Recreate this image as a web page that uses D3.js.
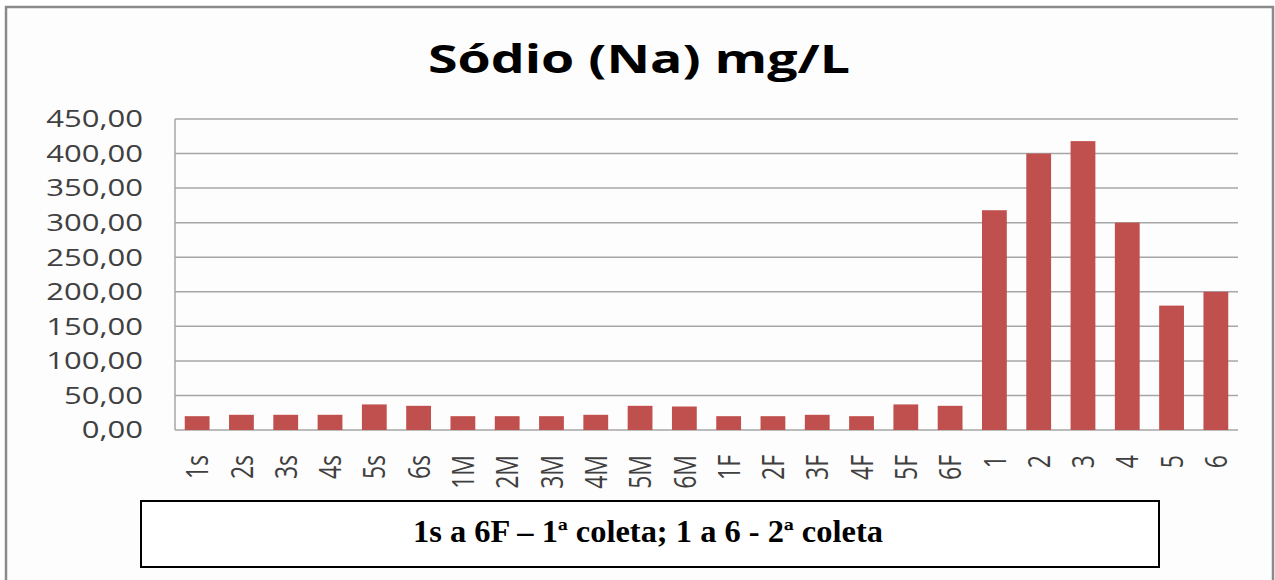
<!DOCTYPE html>
<html>
<head>
<meta charset="utf-8">
<script src="https://cdn.jsdelivr.net/npm/d3@7"></script>
<style>
  body { margin: 0; background: #ffffff; }
  svg { display: block; }
</style>
</head>
<body>
<div id="container"></div>
<script>
/* chart data */
var categories = ["1s","2s","3s","4s","5s","6s","1M","2M","3M","4M","5M","6M",
                  "1F","2F","3F","4F","5F","6F","1","2","3","4","5","6"];
var sodium = [20,22,22,22,37,35,20,20,20,22,35,34,
              20,20,22,20,37,35,318,400,418,300,180,200];
var yTicks = [0,50,100,150,200,250,300,350,400,450];
var title = "Sódio (Na) mg/L";
var caption = "1s a 6F – 1ª coleta; 1 a 6  - 2ª coleta";

/* setup the dimensions */
var W = 1275, H = 580,
    plot = { left: 175, right: 1238, top: 119, bottom: 430 },
    stretch = 1.35;   // the source picture is stretched sideways

var ptBR = d3.formatLocale({ decimal: ",", thousands: ".", grouping: [3], currency: ["", ""] });
var fmt = ptBR.format(".2f");

var svg = d3.select("#container")
            .append("svg")
            .attr("width", W)
            .attr("height", H)

/* outer chart frame */
svg.append("rect")
   .attr("x", 6).attr("y", 7)
   .attr("width", 1267).attr("height", 600)
   .attr("fill", "#fdfdfd")
   .attr("stroke", "#8a8a8a")
   .attr("stroke-width", 2.5)

/* scales */
var x = d3.scaleBand()
          .domain(categories)
          .range([plot.left, plot.right])
          .paddingInner(0.44)
          .paddingOuter(0.22)
var y = d3.scaleLinear()
          .domain([0, 450])
          .range([plot.bottom, plot.top])

/* gridlines */
svg.append("g")
   .selectAll("line")
   .data(yTicks)
   .enter().append("line")
     .attr("x1", plot.left).attr("x2", plot.right)
     .attr("y1", function(d) { return y(d) })
     .attr("y2", function(d) { return y(d) })
     .attr("stroke", "#a6a6a6")
     .attr("stroke-width", 1.5)

/* left axis line */
svg.append("line")
   .attr("x1", plot.left).attr("x2", plot.left)
   .attr("y1", plot.top).attr("y2", plot.bottom)
   .attr("stroke", "#a6a6a6")
   .attr("stroke-width", 1.5)

/* bars */
svg.append("g")
   .selectAll("rect")
   .data(sodium)
   .enter().append("rect")
     .attr("x", function(d, i) { return x(categories[i]) })
     .attr("width", x.bandwidth())
     .attr("y", function(d) { return y(d) })
     .attr("height", function(d) { return y(0) - y(d) })
     .attr("fill", "#c0504d")

/* y tick labels */
svg.append("g")
   .selectAll("text")
   .data(yTicks)
   .enter().append("text")
     .attr("transform", function(d) {
       return "translate(143," + y(d) + ") scale(" + stretch + ",1)"
     })
     .attr("dy", "0.36em")
     .attr("text-anchor", "end")
     .attr("font-family", "'Open Sans', sans-serif")
     .attr("font-size", 23)
     .attr("fill", "#404040")
     .text(function(d) { return fmt(d) })

/* x tick labels, rotated */
svg.append("g")
   .selectAll("text")
   .data(categories)
   .enter().append("text")
     .attr("transform", function(d) {
       return "translate(" + (x(d) + x.bandwidth() / 2) + ",455) scale(" + stretch + ",1) rotate(-90)"
     })
     .attr("dy", "0.36em")
     .attr("text-anchor", "end")
     .attr("font-family", "'Open Sans', sans-serif")
     .attr("font-size", 23)
     .attr("fill", "#404040")
     .text(function(d) { return d })

/* title */
svg.append("text")
   .attr("x", 639).attr("y", 73)
   .attr("text-anchor", "middle")
   .attr("font-family", "'Open Sans', sans-serif")
   .attr("font-weight", "bold")
   .attr("font-size", 39)
   .attr("fill", "#000")
   .attr("textLength", 422)
   .attr("lengthAdjust", "spacingAndGlyphs")
   .text(title)

/* caption box */
svg.append("rect")
   .attr("x", 141).attr("y", 501)
   .attr("width", 1018).attr("height", 66)
   .attr("fill", "#fff")
   .attr("stroke", "#000")
   .attr("stroke-width", 2)

svg.append("text")
   .attr("x", 648).attr("y", 542)
   .attr("text-anchor", "middle")
   .attr("font-family", "'Liberation Serif', 'Times New Roman', serif")
   .attr("font-weight", "bold")
   .attr("font-size", 31)
   .attr("fill", "#000")
   .attr("textLength", 470)
   .attr("lengthAdjust", "spacingAndGlyphs")
   .text(caption)
</script>
</body>
</html>
